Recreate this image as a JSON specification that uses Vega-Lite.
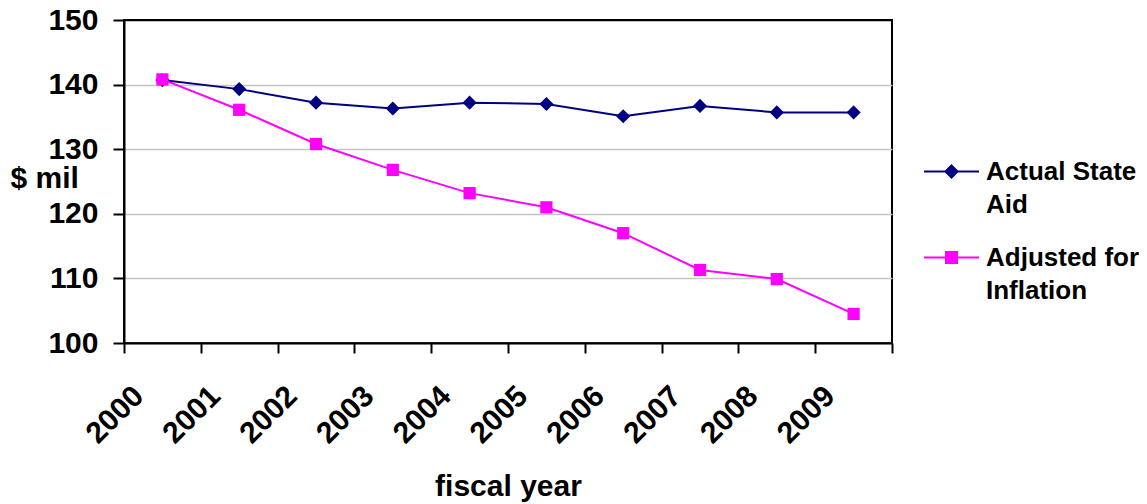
{
  "$schema": "https://vega.github.io/schema/vega-lite/v6.json",
  "width": 768,
  "height": 323,
  "autosize": {"type": "none"},
  "padding": {"left": 124, "top": 20, "right": 255, "bottom": 161},
  "background": "white",
  "config": {
    "view": {"stroke": "black", "strokeWidth": 2},
    "font": "Liberation Sans"
  },
  "data": {
    "values": [
      {"year": "2000", "series": "Actual State Aid", "value": 140.7},
      {"year": "2001", "series": "Actual State Aid", "value": 139.3},
      {"year": "2002", "series": "Actual State Aid", "value": 137.2},
      {"year": "2003", "series": "Actual State Aid", "value": 136.3},
      {"year": "2004", "series": "Actual State Aid", "value": 137.2},
      {"year": "2005", "series": "Actual State Aid", "value": 137.0},
      {"year": "2006", "series": "Actual State Aid", "value": 135.1},
      {"year": "2007", "series": "Actual State Aid", "value": 136.7},
      {"year": "2008", "series": "Actual State Aid", "value": 135.7},
      {"year": "2009", "series": "Actual State Aid", "value": 135.7},
      {"year": "2000", "series": "Adjusted for Inflation", "value": 140.8},
      {"year": "2001", "series": "Adjusted for Inflation", "value": 136.1},
      {"year": "2002", "series": "Adjusted for Inflation", "value": 130.8},
      {"year": "2003", "series": "Adjusted for Inflation", "value": 126.8},
      {"year": "2004", "series": "Adjusted for Inflation", "value": 123.2},
      {"year": "2005", "series": "Adjusted for Inflation", "value": 121.0},
      {"year": "2006", "series": "Adjusted for Inflation", "value": 117.0},
      {"year": "2007", "series": "Adjusted for Inflation", "value": 111.3},
      {"year": "2008", "series": "Adjusted for Inflation", "value": 109.9},
      {"year": "2009", "series": "Adjusted for Inflation", "value": 104.5}
    ]
  },
  "encoding": {
    "x": {
      "field": "year",
      "type": "ordinal",
      "bandPosition": 0.5,
      "scale": {"type": "band", "paddingInner": 0, "paddingOuter": 0},
      "axis": {
        "tickBand": "extent",
        "grid": false,
        "domainColor": "black",
        "domainWidth": 2,
        "tickColor": "black",
        "tickWidth": 2,
        "tickSize": 10,
        "labelAngle": -45,
        "labelAlign": "right",
        "labelBaseline": "middle",
        "labelOffset": -24,
        "labelPadding": 38,
        "labelOverlap": false,
        "labelBound": false,
        "labelFont": "Liberation Sans",
        "labelFontWeight": "bold",
        "labelFontSize": 30,
        "labelColor": "black",
        "title": "fiscal year",
        "titleFont": "Liberation Sans",
        "titleFontWeight": "bold",
        "titleFontSize": 30,
        "titleColor": "black",
        "titleX": 384,
        "titleY": 152,
        "titleAlign": "center",
        "titleBaseline": "alphabetic"
      }
    },
    "y": {
      "field": "value",
      "type": "quantitative",
      "scale": {"domain": [100, 150], "zero": false, "nice": false},
      "axis": {
        "values": [100, 110, 120, 130, 140, 150],
        "grid": true,
        "gridColor": {"condition": {"test": "datum.value == 150", "value": "black"}, "value": "#c4c4c4"},
        "gridWidth": 1.5,
        "domainColor": "black",
        "domainWidth": 2,
        "tickColor": "black",
        "tickWidth": 2,
        "tickSize": 11,
        "labelPadding": 15,
        "labelFont": "Liberation Sans",
        "labelFontWeight": "bold",
        "labelFontSize": 30,
        "labelColor": "black",
        "title": "$ mil",
        "titleFont": "Liberation Sans",
        "titleFontWeight": "bold",
        "titleFontSize": 30,
        "titleColor": "black",
        "titleAngle": 0,
        "titleX": -114,
        "titleY": 158,
        "titleAlign": "left",
        "titleBaseline": "middle"
      }
    },
    "color": {
      "field": "series",
      "type": "nominal",
      "scale": {"domain": ["Actual State Aid", "Adjusted for Inflation"], "range": ["#000080", "#ff00ff"]},
      "legend": {
        "orient": "none",
        "legendX": 799,
        "legendY": 123,
        "title": null,
        "padding": 0,
        "symbolSize": 3025,
        "symbolStrokeWidth": 2,
        "labelFont": "Liberation Sans",
        "labelFontWeight": "bold",
        "labelFontSize": 26,
        "labelColor": "black",
        "labelOffset": 6,
        "labelLimit": 300,
        "rowPadding": 11,
        "labelExpr": "datum.label == 'Actual State Aid' ? ['Actual State', 'Aid'] : ['Adjusted for', 'Inflation']",
        "encode": {
          "labels": {
            "update": {
              "lineHeight": {"value": 33}
            }
          },
          "symbols": {
            "update": {
              "shape": {"signal": "datum.value == 'Actual State Aid' ? 'M-1,0L1,0M0,-0.22L0.22,0L0,0.22L-0.22,0Z' : 'M-1,0L1,0M-0.2,-0.2L0.2,-0.2L0.2,0.2L-0.2,0.2Z'"},
              "size": {"value": 3025},
              "stroke": {"signal": "datum.value == 'Actual State Aid' ? '#000080' : '#ff00ff'"},
              "fill": {"signal": "datum.value == 'Actual State Aid' ? '#000080' : '#ff00ff'"},
              "fillOpacity": {"value": 1},
              "strokeOpacity": {"value": 1},
              "opacity": {"value": 1},
              "strokeWidth": {"value": 2}
            }
          }
        }
      }
    }
  },
  "layer": [
    {"mark": {"type": "line", "strokeWidth": 2}},
    {
      "transform": [{"filter": "datum.series == 'Actual State Aid'"}],
      "mark": {"type": "point", "filled": true, "opacity": 1, "shape": "diamond", "size": 200}
    },
    {
      "transform": [{"filter": "datum.series == 'Adjusted for Inflation'"}],
      "mark": {"type": "point", "filled": true, "opacity": 1, "shape": "square", "size": 150}
    }
  ]
}
